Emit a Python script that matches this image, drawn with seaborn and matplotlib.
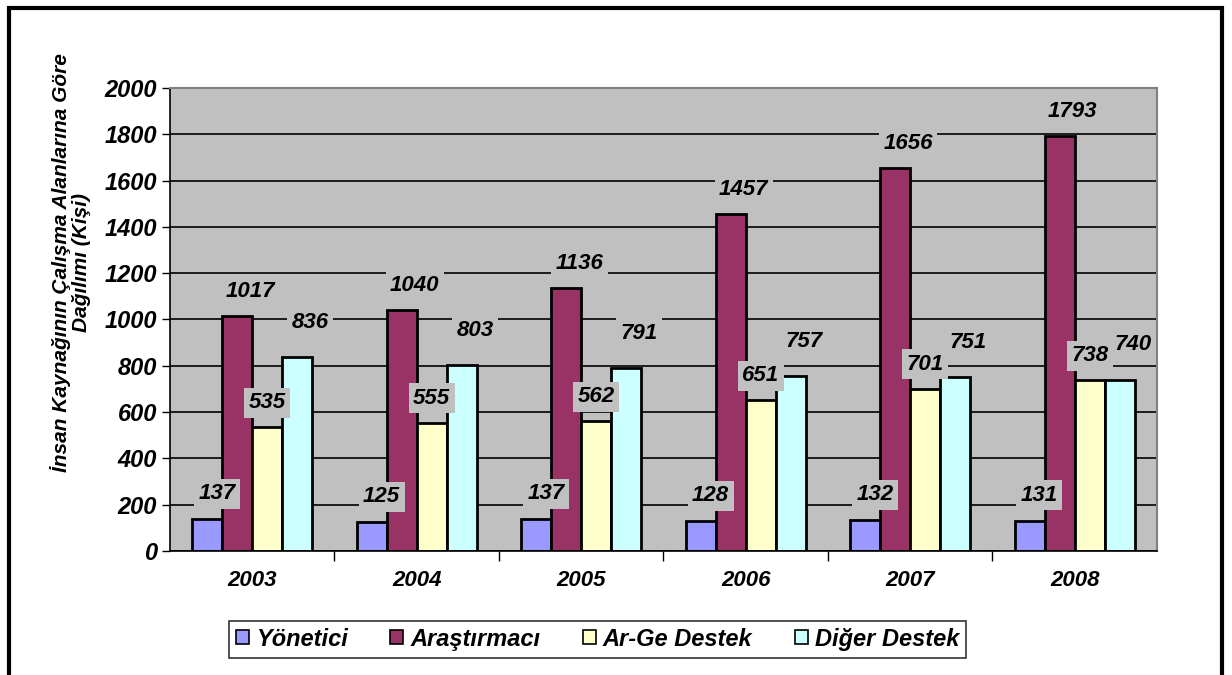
import pandas as pd
import matplotlib
matplotlib.use("Agg")
import matplotlib.pyplot as plt
import seaborn as sns
from matplotlib.patches import Rectangle

years = ["2003", "2004", "2005", "2006", "2007", "2008"]
groups = ["Yönetici", "Araştırmacı", "Ar-Ge Destek", "Diğer Destek"]
yonetici = [137, 125, 137, 128, 132, 131]
arastirmaci = [1017, 1040, 1136, 1457, 1656, 1793]
arge = [535, 555, 562, 651, 701, 738]
diger = [836, 803, 791, 757, 751, 740]
colors = ["#9999FF", "#993366", "#FFFFCC", "#CCFFFF"]

rows = []
for g, vals in zip(groups, [yonetici, arastirmaci, arge, diger]):
    for y, v in zip(years, vals):
        rows.append({"yil": y, "kisi": v, "grup": g})
df = pd.DataFrame(rows)

sns.set_style("white")
plt.rcParams["font.family"] = ["Liberation Sans", "DejaVu Sans"]
plt.rcParams["text.color"] = "black"
plt.rcParams["axes.labelcolor"] = "black"
plt.rcParams["xtick.color"] = "black"
plt.rcParams["ytick.color"] = "black"

fig = plt.figure(figsize=(12.32, 6.75), dpi=100)
ax = fig.add_axes([0.138, 0.1837, 0.801, 0.686])
ax.set_facecolor("#C0C0C0")

sns.barplot(data=df, x="yil", y="kisi", hue="grup", palette=colors, saturation=1,
            width=0.73, edgecolor="black", linewidth=2, ax=ax, legend=False)

ax.set_ylim(0, 2000)
ax.set_xlim(-0.5, 5.5)
ax.set_yticks(range(0, 2001, 200))
ax.yaxis.grid(True, color="black", linewidth=1.2)
ax.set_axisbelow(True)

ax.tick_params(axis="y", length=6, width=1, color="black", direction="out", left=True,
               labelsize=17)
ax.tick_params(axis="x", which="major", length=0, pad=14, labelsize=16)
ax.set_xticks([i + 0.5 for i in range(5)], minor=True)
ax.tick_params(axis="x", which="minor", length=7, width=1, color="black", direction="out", bottom=True)
for lab in ax.get_xticklabels() + ax.get_yticklabels():
    lab.set_fontweight("bold")
    lab.set_fontstyle("italic")

ax.set_xlabel("")
ax.set_ylabel("İnsan Kaynağının Çalışma Alanlarına Göre\nDağılımı (Kişi)",
              fontsize=15, fontstyle="italic", fontweight="bold", linespacing=1.05)
ax.yaxis.set_label_coords(-0.08, 0.622)

for side in ["left", "bottom"]:
    ax.spines[side].set_color("black")
    ax.spines[side].set_linewidth(1.2)
for side in ["top", "right"]:
    ax.spines[side].set_color("#808080")
    ax.spines[side].set_linewidth(1.5)

# value labels
dx = [0.06, 0.08, 0.0, 0.08]
dy = [110, 105, 105, 150]
for i, cont in enumerate(ax.containers):
    for bar in cont:
        h = bar.get_height()
        x = bar.get_x() + bar.get_width() / 2 + dx[i]
        ax.text(x, h + dy[i], f"{int(round(h))}", ha="center", va="center",
                fontsize=16, fontweight="bold", fontstyle="italic",
                bbox=dict(boxstyle="square,pad=0.2", facecolor="#C0C0C0", edgecolor="none"))

# legend
handles = [Rectangle((0, 0), 1, 1, facecolor=c, edgecolor="black", linewidth=1.2) for c in colors]
leg = fig.legend(handles, groups, loc="center", bbox_to_anchor=(0.485, 0.053), ncol=4,
                 frameon=True, fancybox=False, edgecolor="black", handlelength=0.55,
                 handleheight=0.55, handletextpad=0.3, columnspacing=1.8,
                 prop={"size": 17, "weight": "bold", "style": "italic"},
                 borderpad=0.3)
leg.get_frame().set_linewidth(1.2)

# outer frame
fig.patches.append(Rectangle((0.007, -0.02), 0.985, 1.008, transform=fig.transFigure,
                             fill=False, edgecolor="black", linewidth=3))

fig.savefig("out.png", dpi=100)
